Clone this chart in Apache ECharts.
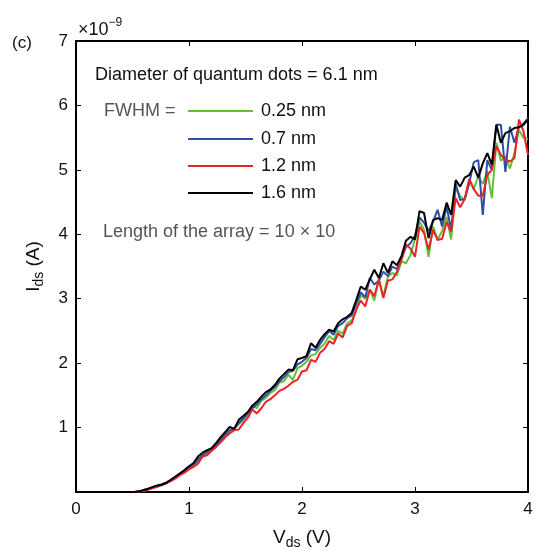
<!DOCTYPE html>
<html>
<head>
<meta charset="utf-8">
<script src="https://cdn.jsdelivr.net/npm/echarts@6/dist/echarts.min.js"></script>
<style>
  html, body { margin: 0; padding: 0; background: #fff; }
  #echarts { width: 536px; height: 551px; }
</style>
</head>
<body>
<div id="echarts"></div>
<script>
// Vds sample points (V)
const vds = [
  0.00, 0.04, 0.08, 0.12, 0.16, 0.20, 0.24, 0.28, 0.32, 0.36,
  0.40, 0.44, 0.48, 0.52, 0.56, 0.60, 0.64, 0.68, 0.72, 0.76,
  0.80, 0.84, 0.88, 0.92, 0.96, 1.00, 1.04, 1.08, 1.12, 1.16,
  1.20, 1.24, 1.28, 1.32, 1.36, 1.40, 1.44, 1.48, 1.52, 1.56,
  1.60, 1.64, 1.68, 1.72, 1.76, 1.80, 1.84, 1.88, 1.92, 1.96,
  2.00, 2.04, 2.08, 2.12, 2.16, 2.20, 2.24, 2.28, 2.32, 2.36,
  2.40, 2.44, 2.48, 2.52, 2.56, 2.60, 2.64, 2.68, 2.72, 2.76,
  2.80, 2.84, 2.88, 2.92, 2.96, 3.00, 3.04, 3.08, 3.12, 3.16,
  3.20, 3.24, 3.28, 3.32, 3.36, 3.40, 3.44, 3.48, 3.52, 3.56,
  3.60, 3.64, 3.68, 3.72, 3.76, 3.80, 3.84, 3.88, 3.92, 3.96,
  4.00
];

// Ids in units of 1e-9 A, one list per FWHM
const ids025 = [
  0, 0, 0, 0, 0, 0, 0, 0, 0, 0,
  0, 0, 0, 0.00, 0.01, 0.02, 0.04, 0.07, 0.09, 0.12,
  0.15, 0.18, 0.22, 0.27, 0.32, 0.37, 0.42, 0.47, 0.55, 0.60,
  0.64, 0.71, 0.79, 0.87, 0.94, 0.98, 1.05, 1.12, 1.19, 1.34,
  1.30, 1.42, 1.46, 1.54, 1.58, 1.70, 1.72, 1.82, 1.74, 1.92,
  1.96, 2.02, 2.12, 2.14, 2.24, 2.30, 2.42, 2.36, 2.50, 2.46,
  2.62, 2.66, 2.82, 3.05, 3.00, 3.14, 2.97, 3.30, 3.04, 3.34,
  3.40, 3.36, 3.58, 3.55, 3.68, 3.92, 4.20, 4.07, 3.65, 4.12,
  3.92, 4.05, 4.27, 3.92, 4.72, 4.59, 4.53, 4.84, 4.70, 4.90,
  4.78, 4.98, 4.56, 5.42, 5.14, 5.21, 5.02, 5.26, 5.62, 5.50,
  5.48
];
const ids07 = [
  0, 0, 0, 0, 0, 0, 0, 0, 0, 0,
  0, 0, 0, 0.00, 0.01, 0.03, 0.05, 0.07, 0.10, 0.12,
  0.15, 0.19, 0.23, 0.28, 0.33, 0.38, 0.43, 0.50, 0.57, 0.62,
  0.66, 0.73, 0.81, 0.89, 0.96, 0.99, 1.07, 1.14, 1.22, 1.30,
  1.36, 1.44, 1.50, 1.57, 1.63, 1.72, 1.78, 1.86, 1.88, 1.98,
  2.02, 2.08, 2.22, 2.20, 2.30, 2.40, 2.50, 2.44, 2.58, 2.62,
  2.70, 2.74, 2.92, 3.10, 3.02, 3.32, 3.22, 3.28, 3.42, 3.35,
  3.50, 3.46, 3.62, 3.80, 3.86, 3.98, 4.26, 4.18, 4.05, 4.20,
  4.38, 4.12, 4.43, 4.07, 4.79, 4.53, 4.55, 4.79, 5.12, 5.15,
  4.30, 5.15, 5.00, 5.70, 5.70, 4.97, 5.67, 5.42, 5.67, 5.72,
  5.80
];
const ids12 = [
  0, 0, 0, 0, 0, 0, 0, 0, 0, 0,
  0, 0, 0, 0.00, 0.01, 0.02, 0.04, 0.06, 0.08, 0.11,
  0.14, 0.17, 0.21, 0.26, 0.30, 0.35, 0.39, 0.44, 0.55, 0.57,
  0.64, 0.70, 0.77, 0.85, 0.91, 0.96, 0.97, 1.07, 1.15, 1.28,
  1.22, 1.30, 1.40, 1.44, 1.50, 1.57, 1.60, 1.65, 1.71, 1.74,
  1.87, 1.89, 2.05, 2.02, 2.16, 2.22, 2.34, 2.30, 2.46, 2.40,
  2.58, 2.62, 2.83, 2.97, 2.88, 3.14, 3.04, 3.30, 3.01, 3.28,
  3.30, 3.42, 3.60, 3.84, 3.78, 3.65, 4.12, 4.02, 3.76, 4.07,
  3.91, 3.93, 4.19, 4.04, 4.56, 4.42, 4.55, 4.86, 4.70, 4.60,
  4.60, 4.92, 5.00, 5.37, 5.23, 5.16, 5.13, 5.18, 5.78, 5.60,
  5.23
];
const ids16 = [
  0, 0, 0, 0, 0, 0, 0, 0, 0, 0,
  0, 0, 0, 0.00, 0.01, 0.03, 0.05, 0.08, 0.10, 0.11,
  0.14, 0.19, 0.24, 0.29, 0.34, 0.40, 0.45, 0.55, 0.61, 0.65,
  0.68, 0.76, 0.85, 0.93, 1.01, 0.98, 1.12, 1.18, 1.24, 1.34,
  1.40, 1.48, 1.55, 1.59, 1.66, 1.76, 1.83, 1.90, 1.89, 2.06,
  2.08, 2.11, 2.31, 2.24, 2.36, 2.45, 2.52, 2.49, 2.62, 2.68,
  2.72, 2.78, 2.98, 3.19, 3.14, 3.30, 3.45, 3.32, 3.55, 3.40,
  3.58, 3.52, 3.66, 3.90, 3.96, 3.92, 4.36, 4.33, 3.94, 4.22,
  4.25, 4.22, 4.49, 4.30, 4.84, 4.74, 4.88, 4.92, 5.05, 4.88,
  5.10, 5.26, 5.08, 5.70, 5.42, 5.57, 5.60, 5.65, 5.66, 5.70,
  5.78
];

const seriesNames = ["0.25 nm", "0.7 nm", "1.2 nm", "1.6 nm"];
const seriesColors = ["#62c13c", "#2f4ea3", "#ec2227", "#000000"];
const seriesValues = [ids025, ids07, ids12, ids16];

const FONT = "'Liberation Sans', Arial, sans-serif";
const GRID_LEFT = 76;
const GRID_TOP = 41;
const LEGEND_X1 = 188;
const LEGEND_X2 = 253;
const LEGEND_Y = [111, 139, 166, 193];

const onRender = () => {
  const dom = document.getElementById("echarts");
  const myChart = echarts.init(dom, null, { renderer: "canvas", width: 536, height: 551 });

  const axisLine = { show: true, onZero: false, lineStyle: { color: "#000", width: 2 } };
  const tickIn = { show: true, inside: true, length: 5, lineStyle: { color: "#000", width: 1 } };

  const legendGraphics = [];
  seriesNames.forEach((name, i) => {
    legendGraphics.push({
      type: "line",
      shape: { x1: LEGEND_X1, y1: LEGEND_Y[i], x2: LEGEND_X2, y2: LEGEND_Y[i] },
      style: { stroke: seriesColors[i], lineWidth: 2 },
    });
    legendGraphics.push({
      type: "text",
      x: 261, y: LEGEND_Y[i],
      style: { text: name, font: "18px " + FONT, fill: "#111", verticalAlign: "middle" },
    });
  });

  const option = {
    animation: false,
    backgroundColor: "#fff",
    grid: { left: GRID_LEFT, right: 8, top: GRID_TOP, bottom: 59, containLabel: false, outerBoundsMode: "none" },
    xAxis: [
      {
        type: "value", min: 0, max: 4, interval: 1,
        axisLine: axisLine, axisTick: tickIn, splitLine: { show: false },
        axisLabel: { color: "#111", fontSize: 17, fontFamily: FONT, margin: 9 },
        name: "{a|V}{s|ds}{a| (V)}", nameLocation: "middle", nameGap: 33,
        nameTextStyle: {
          rich: {
            a: { fontSize: 19, fontFamily: FONT, color: "#111" },
            s: { fontSize: 14, fontFamily: FONT, color: "#111", padding: [11, 0, 0, 0] },
          },
        },
      },
      {
        type: "value", min: 0, max: 4, interval: 1, position: "top",
        axisLine: axisLine, axisTick: tickIn, axisLabel: { show: false }, splitLine: { show: false },
      },
    ],
    yAxis: [
      {
        type: "value", min: 0, max: 7, interval: 1,
        axisLine: axisLine, axisTick: tickIn, splitLine: { show: false },
        axisLabel: {
          color: "#111", fontSize: 17, fontFamily: FONT, margin: 8,
          formatter: (v) => (v === 0 ? "" : String(v)),
        },
        name: "{a|I}{s|ds}{a| (A)}", nameLocation: "middle", nameGap: 30,
        nameTextStyle: {
          rich: {
            a: { fontSize: 19, fontFamily: FONT, color: "#111" },
            s: { fontSize: 14, fontFamily: FONT, color: "#111", padding: [11, 0, 0, 0] },
          },
        },
      },
      {
        type: "value", min: 0, max: 7, interval: 1, position: "right",
        axisLine: axisLine, axisTick: tickIn, axisLabel: { show: false }, splitLine: { show: false },
      },
    ],
    series: seriesValues.map((vals, i) => ({
      name: seriesNames[i],
      type: "line",
      showSymbol: false,
      data: vals.map((v, j) => [vds[j], v]),
      lineStyle: { color: seriesColors[i], width: 2 },
      itemStyle: { color: seriesColors[i] },
      z: 2 + i,
    })),
    graphic: [
      {
        type: "text", x: 12, y: 43,
        style: { text: "(c)", font: "17px " + FONT, fill: "#111", verticalAlign: "middle" },
      },
      {
        type: "text", x: 78, y: 14,
        style: {
          text: "{b|×10}{p|−9}",
          rich: {
            b: { fontSize: 18, fontFamily: FONT, fill: "#111", padding: [7, 0, 0, 0] },
            p: { fontSize: 12, fontFamily: FONT, fill: "#111", padding: [0, 0, 7, 0] },
          },
        },
      },
      {
        type: "text", x: 95, y: 75,
        style: { text: "Diameter of quantum dots = 6.1 nm", font: "18px " + FONT, fill: "#111", verticalAlign: "middle" },
      },
      {
        type: "text", x: 104, y: 111,
        style: { text: "FWHM =", font: "18px " + FONT, fill: "#555", verticalAlign: "middle" },
      },
      {
        type: "text", x: 103, y: 232,
        style: { text: "Length of the array = 10 × 10", font: "18px " + FONT, fill: "#555", verticalAlign: "middle" },
      },
    ].concat(legendGraphics),
  };
  myChart.setOption(option);
};

onRender();
</script>
</body>
</html>
